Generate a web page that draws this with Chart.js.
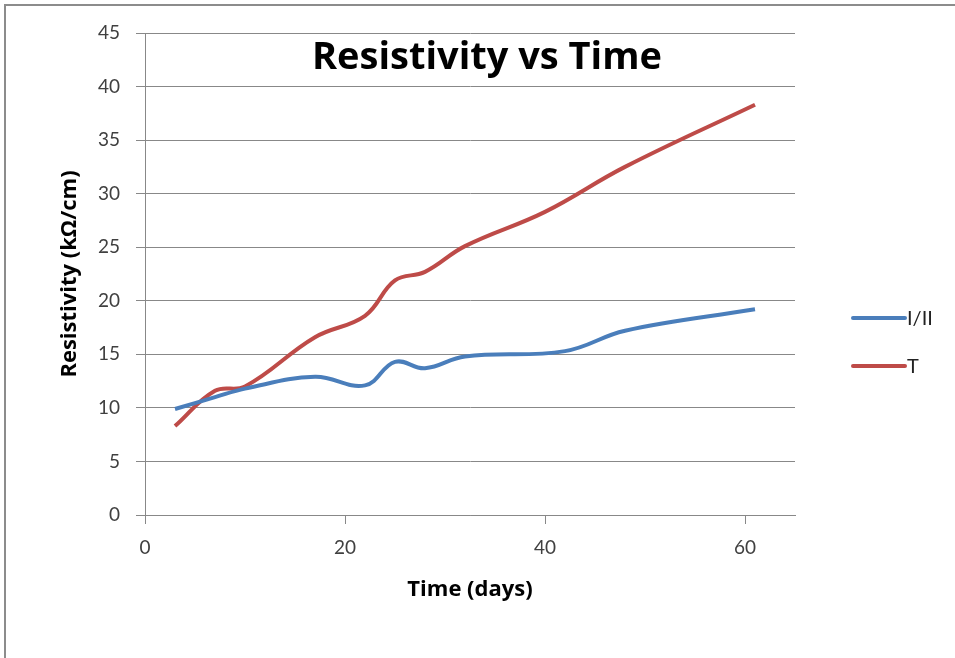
<!DOCTYPE html>
<html>
<head>
<meta charset="utf-8">
<title>Resistivity vs Time</title>
<script src="https://cdn.jsdelivr.net/npm/chart.js@4.4.1/dist/chart.umd.min.js"></script>
<style>
  html, body { margin: 0; padding: 0; background: #fff; }
  #wrap { position: relative; width: 955px; height: 658px; overflow: hidden; }
  #frame {
    position: absolute; left: 4px; top: 4px; width: 1000px; height: 700px;
    border-top: 2px solid #8c8c8c; border-left: 2px solid #8c8c8c;
  }
  canvas { position: absolute; left: 0; top: 0; }
</style>
</head>
<body>
<div id="wrap">
  <div id="frame"></div>
  <canvas id="chart" width="955" height="658"></canvas>
</div>
<script>
// ── Data ───────────────────────────────────────────────────────────────────
const daysI_II   = [3, 7, 10, 17, 22, 25, 28, 32, 42, 48, 61];
const seriesI_II = [9.9, 11.0, 11.8, 12.9, 12.1, 14.3, 13.7, 14.8, 15.3, 17.2, 19.2];
const daysT      = [3, 7, 10, 17, 22, 25, 28, 32, 40, 48, 61];
const seriesT    = [8.3, 11.6, 12.0, 16.6, 18.6, 21.9, 22.7, 25.1, 28.3, 32.5, 38.3];
const xTicks     = [0, 20, 40, 60];
const yTicks     = [0, 5, 10, 15, 20, 25, 30, 35, 40, 45];

const FONT      = "Lato, 'Open Sans', sans-serif";
const BOLD_FONT = "'Open Sans', Lato, sans-serif";
const GRID      = "#888888";

const toPoints = (xs, ys) => ys.map((v, i) => ({ x: xs[i], y: v }));

// ── Title drawn inside the plot area ───────────────────────────────────────
const innerTitle = {
  id: "innerTitle",
  afterDraw(chart) {
    const { ctx, chartArea } = chart;
    ctx.save();
    ctx.font = `bold 38px ${BOLD_FONT}`;
    ctx.fillStyle = "#000";
    ctx.textAlign = "center";
    ctx.textBaseline = "middle";
    ctx.fillText("Resistivity vs Time", (chartArea.left + chartArea.right) / 2 + 17, 58);
    ctx.restore();
  },
};

// ── Legend at the right ────────────────────────────────────────────────────
const sideLegend = {
  id: "sideLegend",
  afterDraw(chart) {
    const { ctx } = chart;
    const rowY = [318, 366];
    ctx.save();
    chart.data.datasets.forEach((ds, i) => {
      ctx.strokeStyle = ds.borderColor;
      ctx.lineWidth = 4;
      ctx.lineCap = "round";
      ctx.beginPath();
      ctx.moveTo(853, rowY[i]);
      ctx.lineTo(905, rowY[i]);
      ctx.stroke();
      ctx.font = `20px ${FONT}`;
      ctx.fillStyle = "#222";
      ctx.textAlign = "left";
      ctx.textBaseline = "middle";
      ctx.fillText(ds.label, 907, rowY[i] + 1);
    });
    ctx.restore();
  },
};

new Chart(document.getElementById("chart").getContext("2d"), {
  type: "scatter",
  data: {
    datasets: [
      {
        label: "I/II",
        data: toPoints(daysI_II, seriesI_II),
        borderColor: "#4a7ebb",
        borderWidth: 4,
        showLine: true,
        tension: 0.4,
        pointRadius: 0,
      },
      {
        label: "T",
        data: toPoints(daysT, seriesT),
        borderColor: "#be4b48",
        borderWidth: 4,
        showLine: true,
        tension: 0.4,
        pointRadius: 0,
      },
    ],
  },
  options: {
    responsive: false,
    animation: false,
    layout: { padding: { left: 0, top: 33, right: 160, bottom: 0 } },
    plugins: {
      legend: { display: false },
      title: { display: false },
      tooltip: { enabled: false },
    },
    scales: {
      x: {
        type: "linear",
        min: 0,
        max: 65,
        afterBuildTicks: (scale) => { scale.ticks = xTicks.map((v) => ({ value: v })); },
        afterFit: (scale) => { scale.height = 143; },
        grid: { drawOnChartArea: false, color: GRID, tickLength: 9 },
        border: { color: GRID },
        ticks: { padding: 12, color: "#404040", font: { family: FONT, size: 19 } },
        title: {
          display: true,
          text: "Time (days)",
          color: "#000",
          font: { family: BOLD_FONT, size: 22, weight: "bold" },
          padding: { top: 0, bottom: 55 },
        },
      },
      y: {
        type: "linear",
        min: 0,
        max: 45,
        afterBuildTicks: (scale) => { scale.ticks = yTicks.map((v) => ({ value: v })); },
        afterFit: (scale) => { scale.width = 145; },
        grid: { color: GRID, tickLength: 9 },
        border: { color: GRID },
        ticks: { padding: 16, color: "#404040", font: { family: FONT, size: 19 } },
        title: {
          display: true,
          text: "Resistivity (kΩ/cm)",
          color: "#000",
          font: { family: BOLD_FONT, size: 22, weight: "bold" },
          padding: { top: 57, bottom: 0 },
        },
      },
    },
  },
  plugins: [innerTitle, sideLegend],
});
</script>
</body>
</html>
